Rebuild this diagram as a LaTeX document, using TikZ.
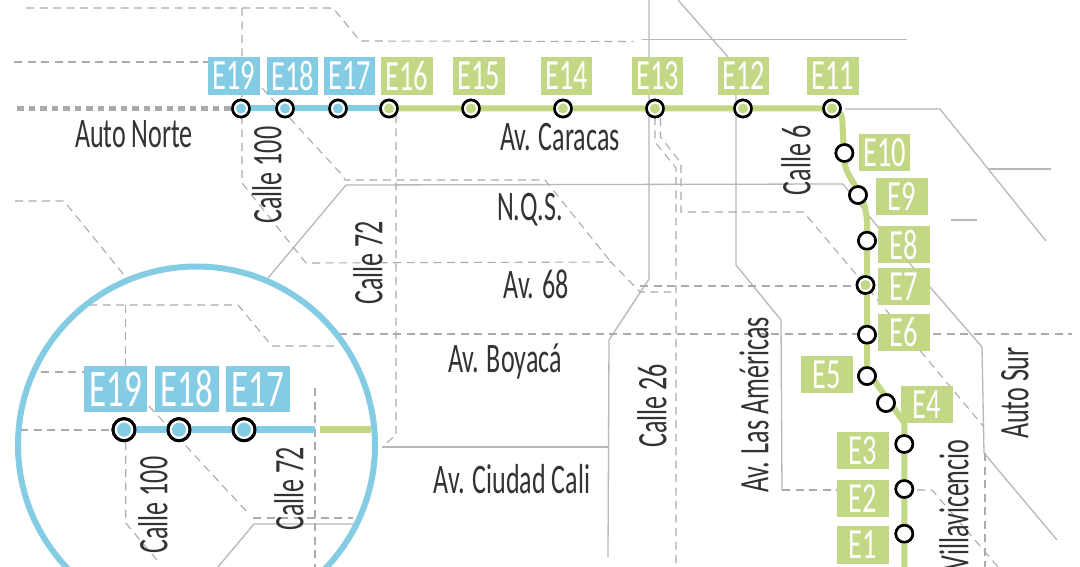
\documentclass[tikz,border=0pt]{standalone}
\usepackage{fontspec}
\setmainfont{Carlito}[FakeStretch=0.62]
\newfontfamily\boxfont{Carlito}[FakeStretch=0.66]
\definecolor{lblue}{HTML}{84CBE4}
\definecolor{lgreen}{HTML}{C2D884}
\definecolor{road}{HTML}{B8B8B8}
\definecolor{droad}{HTML}{ABABAB}
\definecolor{ink}{HTML}{333333}
\tikzset{
 solidroad/.style={draw=road,line width=1.3pt},
 dashroad/.style={draw=droad,line width=1.1pt,dash pattern=on 8pt off 5.5pt},
 gbox/.style={fill=lgreen,text=white,minimum width=51.5pt,minimum height=37.5pt,inner sep=0pt,font=\boxfont\fontsize{43}{43}\selectfont},
 bbox/.style={gbox,fill=lblue},
 bigbox/.style={fill=lblue,text=white,minimum width=63.5pt,minimum height=46pt,inner sep=0pt,font=\boxfont\fontsize{53}{53}\selectfont},
 stn/.style={circle,draw=black,line width=2.6pt,fill=white,minimum size=17pt,inner sep=0pt},
 bigstn/.style={circle,draw=black,line width=3pt,fill=white,minimum size=22pt,inner sep=0pt},
 lab/.style={text=ink,font=\fontsize{42}{42}\selectfont,inner sep=0pt},
 vlab/.style={lab,rotate=90},
}
\newcommand{\dotin}[2]{\fill[#1] (#2) circle (5pt);}
\begin{document}
\begin{tikzpicture}[x=1pt,y=-1pt]
\useasboundingbox (0,0) rectangle (1080,567);
\fill[white] (0,0) rectangle (1080,567);
\begin{scope}
\clip (0,0) rectangle (1080,567);
% solid roads
\draw[solidroad] (268,278)--(346,185)--(843,184)--(878,227)--(982,347)--(984,453)--(1057,540);
\draw[solidroad] (678,0)--(728,57);
\draw[solidroad] (736,95)--(736,265)--(781,320)--(782,490);
\draw[solidroad] (642,39.5)--(907,39.5);
\draw[solidroad] (649,0)--(649,279)--(609,340)--(608,557);
\draw[solidroad] (382,447)--(608,447);
\draw[solidroad] (951,220)--(977,220);
\draw[solidroad] (989,169)--(1051,169);
\draw[solidroad] (845,109)--(940,109)--(1046,241);
% dashed roads
\draw[dashroad] (26,8)--(333,8)--(360,41)--(633,41.5);
\draw[dashroad] (242,8)--(242,183)--(306,263)--(611,262)--(640,292)--(671,292);
\draw[dashroad] (14,62)--(208,62);
\draw[dashroad] (262,88)--(343,176)--(345,180)--(545,180)--(611,262);
\draw[dashroad] (640,286)--(860,286);
\draw[dashroad] (396,115)--(396,435)--(384,445);
\draw[dashroad] (339,334)--(1072,334);
\draw[dashroad] (655,117)--(655,142)--(676,168)--(676,567);
\draw[dashroad] (660.5,118)--(660.5,137)--(681,163)--(681,212)--(803.5,212)--(855,273)--(984,427);
\draw[dashroad] (985,453)--(985,567);
\draw[dashroad] (782,490)--(837,490);
\draw[dashroad] (917,490)--(932,490)--(998,567);
\draw[dashroad] (15,201)--(64,201)--(124,275);
% Auto Norte
\draw[droad,line width=4.5pt,dash pattern=on 6.5pt off 5pt] (17,108.5)--(232,108.5);
% stations
\node[stn] (s19) at (241,108.5) {};
\node[stn] (s18) at (285,108.5) {};
\node[stn] (s17) at (338,108.5) {};
\node[stn] (s16) at (389,108.5) {};
\node[stn] (s15) at (471,108.5) {};
\node[stn] (s14) at (563,108.5) {};
\node[stn] (s13) at (655,108.5) {};
\node[stn] (s12) at (743,108.5) {};
\node[stn] (s11) at (832,108.5) {};
\node[stn] (s10) at (844.4,153) {};
\node[stn] (s9) at (858,195) {};
\node[stn] (s8) at (867,240.7) {};
\node[stn] (s7) at (865.5,285) {};
\node[stn] (s6) at (867,334.7) {};
\node[stn] (s5) at (867,376) {};
\node[stn] (s4) at (886,403) {};
\node[stn] (s3) at (904.3,444) {};
\node[stn] (s2) at (904.3,489) {};
\node[stn] (s1) at (904.3,533.7) {};
% lines
\draw[lblue,line width=6pt] (s19.center)--(s16.center);
\draw[lgreen,line width=6pt,line join=round] (s16.center)--(s11.center) .. controls (842,112) and (842.5,116) .. (842.5,125) -- (844.4,160) .. controls (845,180) and (867,190) .. (867,225) -- (867,370) -- (904.3,423) -- (904.3,567);
% boxes
\foreach \n/\t/\x in {b19/E19/234,b18/E18/292.5,b17/E17/349.5}{\node[bbox] (\n) at (\x,76) {\t};}
\foreach \n/\t/\x in {b16/E16/407,b15/E15/479,b14/E14/566.5,b13/E13/657.5,b12/E12/743.5,b11/E11/833}{\node[gbox] (\n) at (\x,76) {\t};}
\node[gbox] (b10) at (884.5,152.5) {E10};
\node[gbox] (b9) at (902,196.5) {E9};
\node[gbox] (b8) at (904,244.5) {E8};
\node[gbox] (b7) at (904,286.5) {E7};
\node[gbox] (b6) at (904,332.5) {E6};
\node[gbox] (b5) at (827,374.5) {E5};
\node[gbox] (b4) at (927,404.5) {E4};
\node[gbox] (b3) at (863,450.5) {E3};
\node[gbox] (b2) at (863,498.5) {E2};
\node[gbox] (b1) at (863,545) {E1};
% station rings redrawn over the lines
\foreach \s in {s19,s18,s17,s16,s15,s14,s13,s12,s11,s10,s9,s8,s7,s6,s5,s4,s3,s2,s1}{\node[stn] at (\s) {};}
\foreach \s in {s19,s18,s17}{\dotin{lblue}{\s}}
\foreach \s in {s16,s15,s14,s13,s12,s11,s7}{\dotin{lgreen}{\s}}
% labels
\node[lab] (t1) at (134,134) {Auto Norte};
\node[lab] (t2) at (560,137) {Av. Caracas};
\node[lab] (t3) at (530,210) {N.Q.S.};
\node[lab] (t4) at (536,284) {Av. 68};
\node[lab] (t5) at (505,362) {Av. Boyacá};
\node[lab] (t6) at (512,479) {Av. Ciudad Cali};
\node[vlab] (t7) at (267,175) {Calle 100};
\node[vlab] (t8) at (368,263) {Calle 72};
\node[vlab] (t9) at (796,160) {Calle 6};
\node[vlab] (t10) at (652,406) {Calle 26};
\node[vlab] (t11) at (754,405) {Av. Las Américas};
\node[vlab] (t12) at (1015,393) {Auto Sur};
\node[vlab] (t13) at (954,505) {Villavicencio};
% inset
\fill[white] (196.5,445) circle (178.5pt);
\begin{scope}
\clip (196.5,445) circle (178.5pt);
\draw[dashroad] (89,305)--(238,305)--(272,346)--(339,346);
\draw[dashroad] (125.7,305)--(125.7,366);
\draw[dashroad] (125.7,442)--(125.7,523)--(157,560);
\draw[dashroad] (41,372)--(84,372);
\draw[dashroad] (20,430)--(113,430);
\draw[dashroad] (149,406)--(248,513);
\draw[dashroad] (253,518)--(353,518);
\draw[dashroad] (315,388)--(315,567);
\draw[solidroad] (218,567)--(254,524)--(353,524);
\node[bigstn] (i19) at (124,429.7) {};
\node[bigstn] (i18) at (179,429.7) {};
\node[bigstn] (i17) at (244,429.7) {};
\coordinate (iend) at (315,429.7);
\coordinate (gstart) at (320,429.7);
\coordinate (gend) at (371,429.7);
\draw[lblue,line width=7.5pt] (i19.center)--(iend);
\draw[lgreen,line width=7.5pt] (gstart)--(gend);
\node[bigstn] at (i19) {};
\node[bigstn] at (i18) {};
\node[bigstn] at (i17) {};
\fill[lblue] (i19) circle (7pt);
\fill[lblue] (i18) circle (7pt);
\fill[lblue] (i17) circle (7pt);
\node[bigbox] (j19) at (115.5,389) {E19};
\node[bigbox] (j18) at (187,389) {E18};
\node[bigbox] (j17) at (258,389) {E17};
\node[vlab] (t14) at (153,505) {Calle 100};
\node[vlab] (t15) at (289,489) {Calle 72};
\end{scope}
\draw[lblue,line width=6pt] (196.5,445) circle (178.5pt);
\end{scope}
\end{tikzpicture}
\end{document}
